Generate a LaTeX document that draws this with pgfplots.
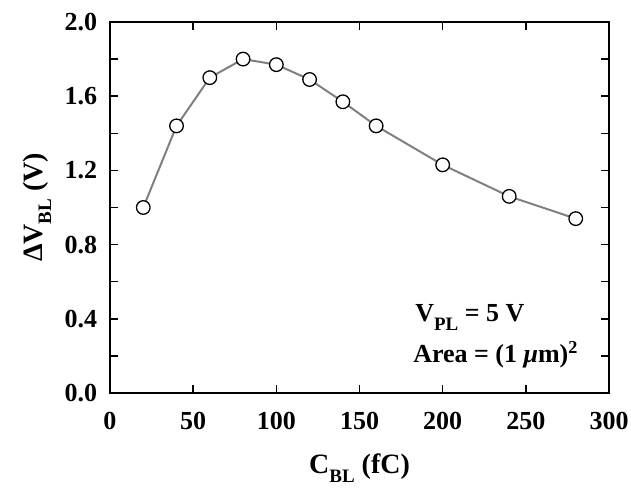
\documentclass[border=0pt]{standalone}
\usepackage{fontspec}
\setmainfont{Liberation Serif}
\usepackage{pgfplots}
\pgfplotsset{compat=1.18}
\definecolor{linegray}{RGB}{128,128,128}
\newcommand\sub[1]{\raisebox{-9pt}{\fontsize{19}{19}\selectfont #1}}
\begin{document}
\fontsize{26}{30}\selectfont\bfseries
\begin{tikzpicture}
\begin{axis}[
  width=499pt, height=371pt, scale only axis,
  xmin=0, xmax=300, ymin=0, ymax=2,
  xtick={0,50,...,300},
  ytick={0,0.4,0.8,1.2,1.6,2.0},
  minor ytick={0.2,0.6,1.0,1.4,1.8},
  tick align=inside,
  major tick length=8pt, minor tick length=8pt,
  axis line style={line width=2pt},
  every tick/.style={black, line width=1.5pt},
  /pgf/number format/assume math mode=true,
  ticklabel style={font=\fontsize{26}{30}\selectfont\bfseries},
  yticklabel style={/pgf/number format/fixed, /pgf/number format/fixed zerofill,
    /pgf/number format/precision=1, xshift=-4pt},
  xticklabel style={yshift=-10pt},
  label style={font=\fontsize{28}{32}\selectfont\bfseries},
  xlabel={C\sub{BL} (fC)},
  ylabel={ΔV\sub{BL} (V)},
  xlabel style={at={(axis description cs:0.5,0)}, anchor=base, yshift=-80pt},
  ylabel style={at={(axis description cs:-0.136,0.5)}, anchor=base},
]
\addplot[color=linegray, line width=2pt, mark=*, mark size=6.8pt,
  mark options={fill=white, draw=black, line width=1.3pt}]
coordinates {
  (20,1.00) (40,1.44) (60,1.70) (80,1.80) (100,1.77) (120,1.69)
  (140,1.57) (160,1.44) (200,1.23) (240,1.06) (280,0.94)
};
\node[anchor=base west, inner sep=0pt] at (axis cs:183.4,0.388) {V\sub{PL} = 5 V};
\node[anchor=base west, inner sep=0pt] at (axis cs:182.2,0.162) {Area = (1 \textit{μ}m)\textsuperscript{2}};
\end{axis}
\pgfresetboundingbox
\useasboundingbox (-110pt,-96pt) rectangle (521pt,393pt);
\end{tikzpicture}
\end{document}
